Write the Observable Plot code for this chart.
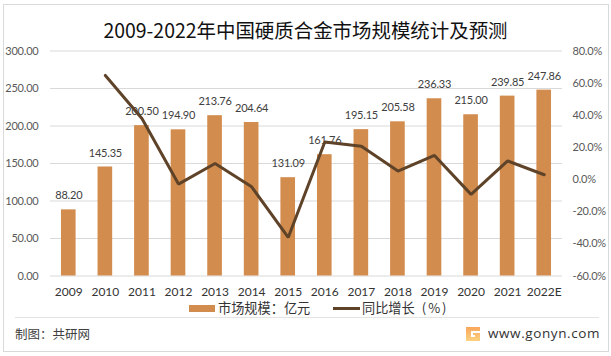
<!DOCTYPE html>
<html lang="zh">
<head>
<meta charset="utf-8">
<script src="https://cdn.jsdelivr.net/npm/d3@7"></script>
<script src="https://cdn.jsdelivr.net/npm/@observablehq/plot@0.6"></script>
<style>
html,body{margin:0;padding:0;background:#fff;}
#page{position:relative;width:611px;height:356px;overflow:hidden;font-family:"Noto Sans CJK SC","Noto Sans",sans-serif;}
#frame{position:absolute;left:3px;top:4px;width:604px;height:346px;border:1px solid #d9d9d9;}
#title{position:absolute;left:0;top:15px;width:611px;text-align:center;font-size:19.45px;line-height:30px;color:#111;}
#chart{position:absolute;left:0;top:0;}
#chart svg{display:block;background:transparent;}
#chart svg .tight text, #chart svg text.tight{letter-spacing:-.2px;}
.legend{position:absolute;top:300px;height:16px;font-size:13.2px;line-height:16px;color:#333;white-space:nowrap;}
.swatch{position:absolute;}
#rule{position:absolute;left:15px;top:317px;width:584px;height:1px;background:#e3e3e3;}
#credit{position:absolute;left:15px;top:324px;font-size:12.5px;line-height:20px;color:#404040;}
#site{position:absolute;left:488px;top:323px;font-size:13.5px;line-height:20px;color:#333;font-family:"Open Sans",sans-serif;letter-spacing:.6px;}
#logo{position:absolute;left:465px;top:326px;}
</style>
</head>
<body>
<div id="page">
  <div id="frame"></div>
  <div id="title">2009-2022年中国硬质合金市场规模统计及预测</div>
  <div id="chart"></div>
  <div class="swatch" style="left:189px;top:305px;width:26px;height:7px;background:#d28c4e"></div>
  <div class="legend" style="left:218px">市场规模：亿元</div>
  <div class="swatch" style="left:333px;top:307px;width:27px;height:3px;background:#5f4329"></div>
  <div class="legend" style="left:362px">同比增长<span style="margin-left:7px;letter-spacing:2px;font-size:13px">(%)</span></div>
  <div id="rule"></div>
  <div id="credit">制图：共研网</div>
  <svg id="logo" width="16" height="16" viewBox="0 0 16 16">
    <defs><linearGradient id="g" x1="0" y1="0" x2="0" y2="1"><stop offset="0" stop-color="#f9a65a"/><stop offset="1" stop-color="#fdd27f"/></linearGradient></defs>
    <path d="M1 1H15V5H6V11H10V9H8V7H15V15H1Z" fill="url(#g)"/>
  </svg>
  <div id="site">www.gonyn.com</div>
</div>
<script>
const years = ["2009","2010","2011","2012","2013","2014","2015","2016","2017","2018","2019","2020","2021","2022E"];
const marketSize = [88.20,145.35,200.50,194.90,213.76,204.64,131.09,161.76,195.15,205.58,236.33,215.00,239.85,247.86];
const growth = [null,64.8,38.0,-2.8,10.0,-4.5,-36.0,23.4,20.7,5.3,15.0,-9.2,11.6,3.0];
const leftTicks = [0,50,100,150,200,250,300];
const rightTicks = [-60,-40,-20,0,20,40,60,80];

const toLeft = p => (p + 60) / 140 * 300;
const bars = years.map((year, i) => ({year, value: marketSize[i]}));
const line = years.map((year, i) => ({year, g: growth[i]})).filter(d => d.g !== null);

const tickColor = "#595959";
const plot = Plot.plot({
  width: 611,
  height: 356,
  marginLeft: 50,
  marginRight: 49,
  marginTop: 50.5,
  marginBottom: 80.5,
  style: {fontFamily: "Lato, 'Noto Sans', sans-serif", fontSize: "12px", background: "transparent"},
  x: {domain: years, paddingInner: 0.6, paddingOuter: 0.3, align: 0.5, round: false, label: null},
  y: {domain: [0, 300], label: null},
  marks: [
    Plot.ruleY(leftTicks, {stroke: "#d9d9d9", strokeWidth: 1}),
    Plot.barY(bars, {x: "year", y: "value", fill: "#d28c4e"}),
    Plot.text(bars, {x: "year", y: "value", text: d => d.value.toFixed(2), dy: -14, fill: "#404040", fontSize: 11, className: "tight"}),
    Plot.line(line, {x: "year", y: d => toLeft(d.g), stroke: "#5f4329", strokeWidth: 3, curve: "linear", strokeLinejoin: "miter"}),
    Plot.axisX({domain: years, tickSize: 0, tickPadding: 11, fill: "#333", fontSize: 12, label: null}),
    Plot.axisY(leftTicks, {anchor: "left", tickSize: 0, tickPadding: 12, tickFormat: d => d.toFixed(2), fill: tickColor, fontSize: 11, className: "tight", label: null}),
    Plot.axisY(rightTicks.map(toLeft), {anchor: "right", tickSize: 0, tickPadding: 10, textAnchor: "start",
      tickFormat: (d, i) => rightTicks[i].toFixed(1) + "%", fill: tickColor, fontSize: 11, className: "tight", label: null})
  ]
});
document.getElementById("chart").append(plot);
</script>
</body>
</html>
